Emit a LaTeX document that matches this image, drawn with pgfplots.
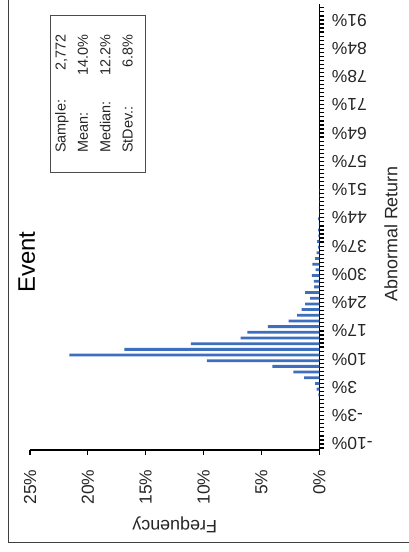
\documentclass[border=0pt]{standalone}
\usepackage{pgfplots}
\pgfplotsset{compat=1.18}
\usepackage{fontspec}
\setmainfont{Liberation Sans}
\definecolor{barblue}{RGB}{62,110,190}
\pgfplotstableread{
r v
1.72 0.09
3.07 0.23
4.43 0.37
5.78 1.32
7.13 2.25
8.49 4.06
9.84 9.73
11.19 21.6
12.54 16.85
13.90 11.1
15.25 6.8
16.60 6.22
17.96 4.46
19.31 2.65
20.66 1.93
22.02 1.53
23.37 1.24
24.72 0.8
26.07 1.24
27.43 0.45
28.78 0.47
30.13 0.66
31.49 0.32
32.84 0.6
34.19 0.37
35.55 0.23
36.90 0.1
38.25 0.2
39.60 0.08
40.96 0.1
42.31 0.05
43.66 0.1
45.02 0.03
46.37 0.05
47.72 0.03
49.08 0.03
50.43 0.03
}\histdata
\begin{document}
\begin{tikzpicture}[x=1bp,y=1bp]
\useasboundingbox (0,0) rectangle (408,552);
\draw[black!75, line width=0.8bp] (8,570) -- (8,10) -- (420,10);
\begin{axis}[
  at={(174.7bp,324.75bp)}, anchor=center,
  scale only axis, width=289.4bp, height=445.5bp,
  x dir=reverse,
  xmin=0, xmax=25, ymin=-11.43, ymax=94.7,
  axis x line*=bottom, axis y line*=right,
  axis line style={line width=1.8bp, -},
  tick style={black, line width=1.2bp},
  major tick length=5bp, minor tick length=5bp,
  tick align=outside,
  xtick={0,5,...,25},
  xticklabels={0\%,5\%,10\%,15\%,20\%,25\%},
  ytick={-10,-3.267,3.467,10.2,16.933,23.667,30.4,37.133,43.867,50.6,57.333,64.067,70.8,77.533,84.267,91},
  yticklabels={-10\%,-3\%,3\%,10\%,17\%,24\%,30\%,37\%,44\%,51\%,57\%,64\%,71\%,78\%,84\%,91\%},
  minor ytick={-10.962,-10,...,94.5},
  tick label style={font=\fontsize{17.5}{17.5}\selectfont, text=black!85},
  xticklabel style={rotate=90, anchor=east},
  xticklabel shift={11bp},
  yticklabel style={rotate=180, anchor=east},
  yticklabel shift={4bp},
  xlabel={Frequency},
  xlabel style={font=\fontsize{18}{18}\selectfont, text=black!85, rotate=180, at={(axis description cs:0.5,-0.168)}, anchor=center},
  ylabel={Abnormal Return},
  ylabel style={font=\fontsize{18}{18}\selectfont, text=black!85, at={(axis description cs:1.2475,0.485)}, anchor=center},
]
\addplot[xbar, bar width=2.8bp, bar shift=0pt, fill=barblue, draw=none] table[x=v, y=r] {\histdata};
\end{axis}
\node[rotate=90, font=\fontsize{24}{24}\selectfont] at (26.7,290) {Event};
\draw[black!70, line width=0.8bp] (50,380) rectangle (145,536.3);
\begin{scope}[every node/.style={rotate=90, font=\fontsize{14.5}{14.5}\selectfont, inner sep=0pt, text=black!85}]
\node[anchor=base west] at (65.5,399) {Sample:};
\node[anchor=base west] at (87.8,399) {Mean:};
\node[anchor=base west] at (110.3,399) {Median:};
\node[anchor=base west] at (132.5,399) {StDev.:};
\node[anchor=base east] at (65.5,518) {2,772};
\node[anchor=base east] at (87.8,518) {14.0\%};
\node[anchor=base east] at (110.3,518) {12.2\%};
\node[anchor=base east] at (132.5,518) {6.8\%};
\end{scope}
\end{tikzpicture}
\end{document}
